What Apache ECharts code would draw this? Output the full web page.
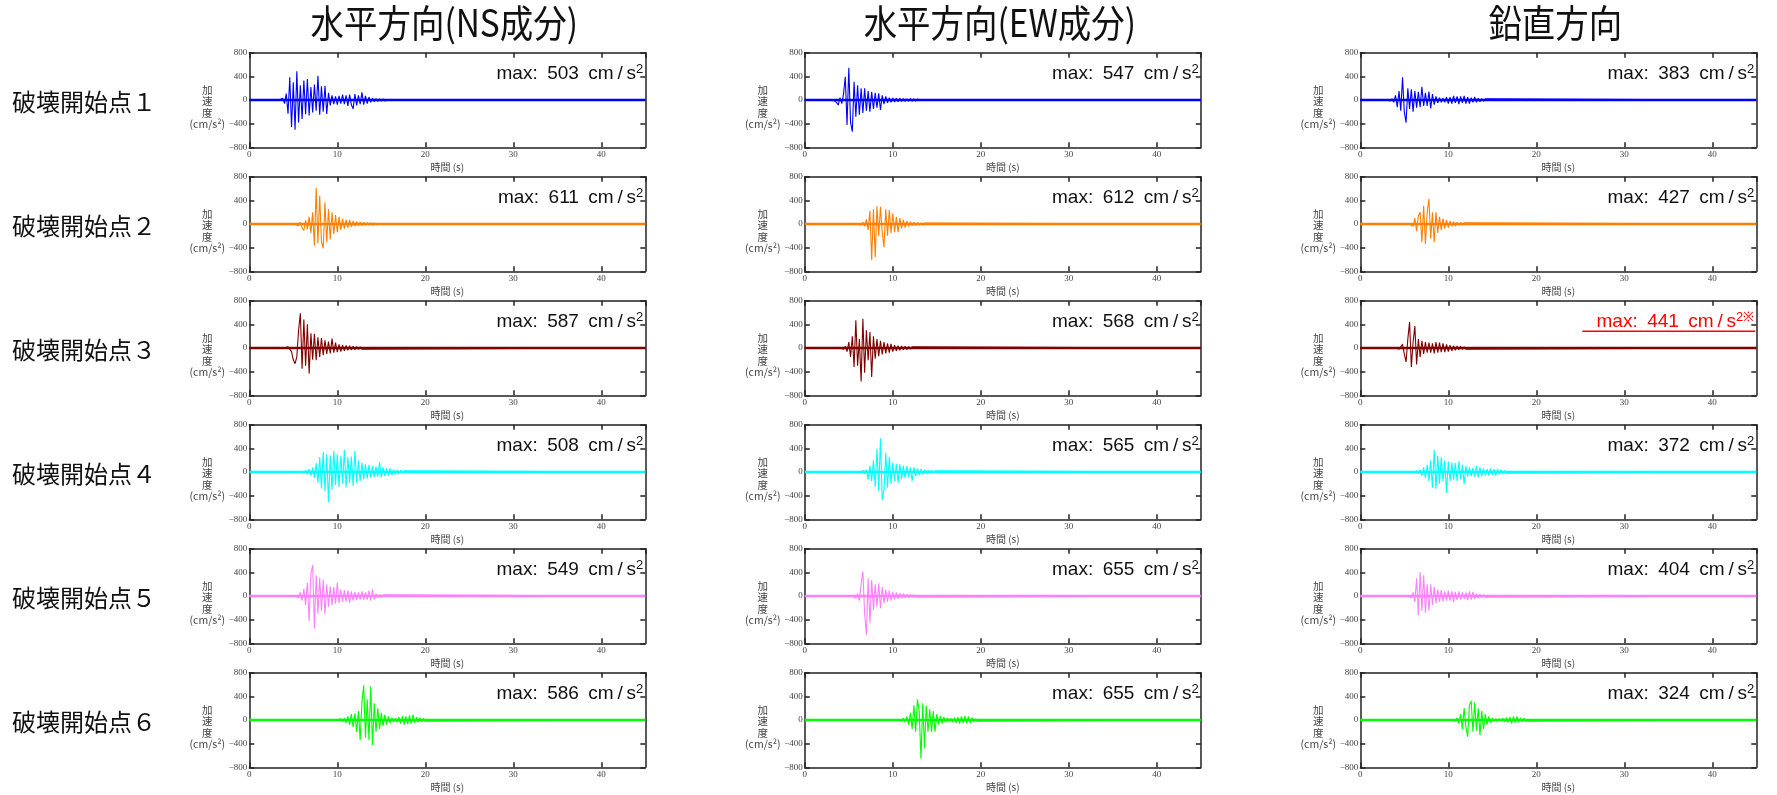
<!DOCTYPE html>
<html>
<head>
<meta charset="utf-8">
<script src="https://cdn.jsdelivr.net/npm/echarts@6/dist/echarts.min.js"></script>
<style>
  html, body { margin: 0; background: #fff; }
  #chart { width: 1777px; height: 795px; }
</style>
</head>
<body>
<div id="chart"></div>
<script>
// column / row headings
var colTitles = ['水平方向(NS成分)', '水平方向(EW成分)', '鉛直方向'];
var rowTitles = ['破壊開始点１', '破壊開始点２', '破壊開始点３', '破壊開始点４', '破壊開始点５', '破壊開始点６'];
var rowColors = ['#0000ff', '#ff8000', '#800000', '#00ffff', '#ff80ff', '#00ff00'];

// peak acceleration shown in each panel [row][NS, EW, UD]
var maxVals = [[503, 547, 383], [611, 612, 427], [587, 568, 441], [508, 565, 372], [549, 655, 404], [586, 655, 324]];

var xTicks = [0, 10, 20, 30, 40];
var yTicks = [-800, -400, 0, 400, 800];

// waveforms: sample spacing DT (s), each trace starts at its onset time
var DT = 0.2;
var nsStart = [3.4, 4.8, 4.0, 5.8, 5.2, 10.0];
var ewStart = [3.2, 6.0, 4.0, 6.0, 5.4, 10.6];
var udStart = [3.0, 5.6, 4.0, 5.8, 5.4, 10.4];

var ns1 = [0,-20,30,-60,110,-230,383,-460,300,-503,484,-380,250,-320,330,-240,355,-260,220,-210,260,-180,411,-250,230,-200,242,-236,120,-90,80,-70,60,-80,70,-60,90,-70,80,-100,90,-80,-150,100,-90,80,-70,130,-80,70,-60,50,-40,30,-30,25,-25,20,-20,20,-15,15,0];
var ns2 = [0,10,-10,20,-30,30,-60,-110,60,-90,120,-150,200,-366,611,-330,479,-300,-411,366,-310,250,-260,197,-169,150,-140,120,-100,90,-80,70,-60,70,-50,50,-40,40,-30,35,-30,30,-25,25,-20,20,-25,20,-15,15,0];
var ns3 = [0,10,20,10,-60,-200,-265,-150,300,587,-350,480,-300,400,-433,250,-200,240,-208,180,-150,170,-120,130,-100,110,-90,158,-80,90,-70,60,-60,50,-50,45,-40,40,-35,30,-30,25,-25,20,-20,0];
var ns4 = [0,15,-20,30,-40,50,-60,80,-100,150,-180,250,-280,343,-321,300,-508,280,-300,355,-220,300,-250,280,-200,372,-260,250,-180,260,-236,355,-180,200,-150,150,-120,130,-110,120,-100,100,-90,90,-80,169,-90,80,-70,60,-60,60,-50,40,-40,35,-30,30,-25,20,0];
var ns5 = [0,20,-30,60,-80,120,-150,225,-422,380,523,-549,350,-300,310,-250,280,-310,200,-180,160,-150,150,-130,225,-120,110,-100,100,-90,90,-113,80,-80,70,-70,60,-60,80,-60,60,-60,90,-80,113,-60,40,-30,25,-20,20,0];
var ns6 = [0,-15,20,-30,30,-50,60,-80,100,-120,113,-200,150,-338,300,586,-300,350,-338,570,-422,281,-200,200,-150,120,-100,90,-80,60,-50,40,-30,30,-40,50,-60,70,-80,60,-70,80,-60,90,-50,50,-40,40,-30,30,-20,0];

var ew1 = [0,-20,-40,-85,40,-60,100,394,-422,547,-380,-535,310,-281,250,-250,200,-220,197,-180,150,-197,140,-150,120,-130,113,-169,80,-70,60,-50,40,-40,35,-35,30,-30,30,-25,25,-25,20,-20,25,-20,20,-20,15,-15,0];
var ew2 = [0,20,-20,30,-40,80,-100,225,-612,250,-563,298,-200,293,-150,-394,250,-200,236,-150,180,-140,120,-140,100,-80,70,-60,50,-40,40,-30,30,-25,25,-20,20,-20,15,0];
var ew3 = [0,15,-20,30,-60,100,-150,200,-320,467,-300,150,-568,495,-420,300,-208,270,-490,200,-180,150,-140,120,-110,100,-90,80,-80,70,-60,50,-50,40,-40,35,-30,30,-25,25,-20,20,0];
var ew4 = [0,20,-20,30,-30,40,-124,100,-150,200,-250,394,-321,565,-473,-300,326,-264,250,-200,158,-150,140,-180,130,-120,110,-100,100,-90,80,-152,80,-70,60,-50,50,-40,40,-30,30,-25,25,-20,20,0];
var ew5 = [0,-20,-40,40,-80,200,411,-300,-655,300,-460,270,-236,200,-180,214,-208,150,-120,110,-100,90,-80,70,-60,60,-50,45,-40,40,-35,30,-30,25,-25,20,-20,0];
var ew6 = [0,20,-20,30,-40,60,-80,120,-150,250,-200,349,150,-655,281,-478,250,-200,180,-197,150,-197,100,-80,70,-60,50,-40,35,-30,30,-40,40,-50,50,-60,60,-50,70,-60,60,-50,40,-30,20,-20,0];

var ud1 = [0,10,-15,20,-40,80,-120,150,-180,383,-200,-383,197,-150,180,-197,150,-130,140,-120,225,-100,120,-100,141,-141,100,-80,60,-50,40,-40,30,-40,50,-60,50,-60,70,-50,60,-70,60,-50,70,-60,50,-60,40,-40,50,-40,30,-30,25,-20,20,0];
var ud2 = [0,20,-40,100,-120,140,200,-310,310,-338,200,427,-250,200,-310,200,-150,120,-100,90,-80,70,-60,50,-40,40,-35,30,-25,25,-20,20,0];
var ud3 = [0,15,-20,-40,60,-100,-236,150,441,-320,100,370,-280,150,-150,120,-100,100,-80,90,-80,80,-90,100,-80,90,-70,80,-70,60,-60,50,-50,40,-40,35,-30,30,-25,20,-20,0];
var ud4 = [0,15,-20,25,-30,40,-60,80,-100,120,-150,200,-264,372,-281,270,-200,250,-150,200,-349,180,-150,160,-130,150,-150,180,-120,120,-208,100,-80,80,-70,70,-80,100,-90,80,-70,60,-60,50,-60,60,-50,50,-60,50,-40,40,-30,25,-20,0];
var ud5 = [0,20,-30,60,-100,300,-327,404,-250,349,-281,200,-250,197,-150,150,-120,110,-100,100,-90,80,-80,90,-80,80,-100,70,-70,80,-60,60,-50,60,-70,80,-60,70,-50,40,-40,30,-30,25,-20,0];
var ud6 = [0,15,-20,40,-60,100,-150,200,-120,-281,250,324,-200,300,-180,200,-253,150,-150,100,-80,60,-50,30,-20,20,-20,20,-20,30,-30,40,-40,50,-60,60,-50,60,-40,40,-30,30,-20,0];

var traces = [
  [ns1, ew1, ud1], [ns2, ew2, ud2], [ns3, ew3, ud3],
  [ns4, ew4, ud4], [ns5, ew5, ud5], [ns6, ew6, ud6]
];
var starts = [nsStart, ewStart, udStart];

// layout (px)
var COL_LEFT = [249.3, 804.8, 1360.3];
var GRID_W = 396, GRID_H = 94.6;
var ROW_TOP0 = 52.7, ROW_STEP = 124;
var AXIS_COLOR = '#222';
var CJK = "'Noto Sans CJK JP', sans-serif";
var SANS = "'Liberation Sans', Arial, sans-serif";

function wave(t0, vals) {
  var pts = [[0, 0]];
  vals.forEach(function (v, i) { pts.push([+(t0 + i * DT).toFixed(2), v]); });
  pts.push([45, 0]);
  return pts;
}
function axisLine() { return { onZero: false, lineStyle: { color: AXIS_COLOR, width: 1.5 } }; }
function axisTick() { return { inside: true, length: 5, lineStyle: { color: AXIS_COLOR, width: 1.5 } }; }
function minus(v) { return String(v).replace('-', '\u2212'); }

var grids = [], xAxes = [], yAxes = [], series = [], graphics = [];

for (var r = 0; r < 6; r++) {
  var gTop = ROW_TOP0 + r * ROW_STEP;
  graphics.push({
    type: 'text', x: 12, y: gTop + GRID_H / 2 + 2,
    style: { text: rowTitles[r], fontSize: 24, fontFamily: CJK, fill: '#111', align: 'left', verticalAlign: 'middle' }
  });
  for (var c = 0; c < 3; c++) {
    var idx = r * 3 + c;
    var gLeft = COL_LEFT[c];
    grids.push({ left: gLeft, top: gTop, width: GRID_W, height: GRID_H });

    xAxes.push({
      gridIndex: idx, type: 'value', min: xTicks[0], max: 45, interval: 10, position: 'bottom',
      name: '時間 (s)', nameLocation: 'middle', nameGap: 15,
      nameTextStyle: { fontSize: 10, color: '#444', fontFamily: CJK },
      axisLine: axisLine(), axisTick: axisTick(), splitLine: { show: false },
      axisLabel: { fontSize: 9, color: '#444', fontFamily: 'Liberation Serif', margin: 3, showMaxLabel: false }
    });
    xAxes.push({
      gridIndex: idx, type: 'value', min: xTicks[0], max: 45, interval: 10, position: 'top',
      axisLine: axisLine(), axisTick: axisTick(), splitLine: { show: false }, axisLabel: { show: false }
    });
    yAxes.push({
      gridIndex: idx, type: 'value', min: yTicks[0], max: yTicks[yTicks.length - 1], interval: 400, position: 'left',
      axisLine: axisLine(), axisTick: axisTick(), splitLine: { show: false },
      axisLabel: { fontSize: 9, color: '#444', fontFamily: 'Liberation Serif', margin: 2, formatter: minus }
    });
    yAxes.push({
      gridIndex: idx, type: 'value', min: yTicks[0], max: yTicks[yTicks.length - 1], interval: 400, position: 'right',
      axisLine: axisLine(), axisTick: axisTick(), splitLine: { show: false }, axisLabel: { show: false }
    });

    series.push({
      type: 'line', xAxisIndex: 2 * idx, yAxisIndex: 2 * idx,
      data: wave(starts[c][r], traces[r][c]),
      symbol: 'none', silent: true,
      lineStyle: { color: rowColors[r], width: 1.1 },
      markLine: {
        silent: true, symbol: 'none', label: { show: false },
        lineStyle: { color: rowColors[r], width: 2.4, type: 'solid' },
        data: [{ yAxis: 0 }]
      }
    });

    // y axis caption
    graphics.push({
      type: 'text', x: gLeft - 42, y: gTop + 31.6,
      style: { text: '加\n速\n度\n(cm/s²)', fontSize: 10.5, lineHeight: 11.3, fontFamily: CJK, fill: '#444', align: 'center', verticalAlign: 'top' }
    });

    // peak label
    var red = (r === 2 && c === 2);
    var col = red ? '#ff0000' : '#111';
    graphics.push({
      type: 'text', x: gLeft + GRID_W - 2, y: gTop + 21.5,
      style: {
        text: '{a|max:\u2002' + maxVals[r][c] + '\u2002cm\u2009/\u2009s}{b|2' + (red ? '※' : '') + '}',
        align: 'right', verticalAlign: 'middle', fill: col,
        rich: {
          a: { fontSize: 19, fontFamily: SANS, fill: col, lineHeight: 22 },
          b: { fontSize: 13, fontFamily: SANS, fill: col, lineHeight: 22, verticalAlign: 'top' }
        }
      }
    });
    if (red) {
      graphics.push({
        type: 'line',
        shape: { x1: gLeft + GRID_W - 174, y1: gTop + 30.6, x2: gLeft + GRID_W - 1, y2: gTop + 30.6 },
        style: { stroke: '#ff0000', lineWidth: 1.5 }
      });
    }
  }
}

for (var c2 = 0; c2 < 3; c2++) {
  graphics.push({
    type: 'text', x: COL_LEFT[c2] + GRID_W / 2 - 3, y: 23, scaleX: 0.88,
    style: { text: colTitles[c2], fontSize: 38, fontFamily: CJK, fill: '#111', align: 'center', verticalAlign: 'middle' }
  });
}

var chart = echarts.init(document.getElementById('chart'));
chart.setOption({
  animation: false,
  backgroundColor: '#fff',
  grid: grids,
  xAxis: xAxes,
  yAxis: yAxes,
  series: series,
  graphic: graphics
});
</script>
</body>
</html>
